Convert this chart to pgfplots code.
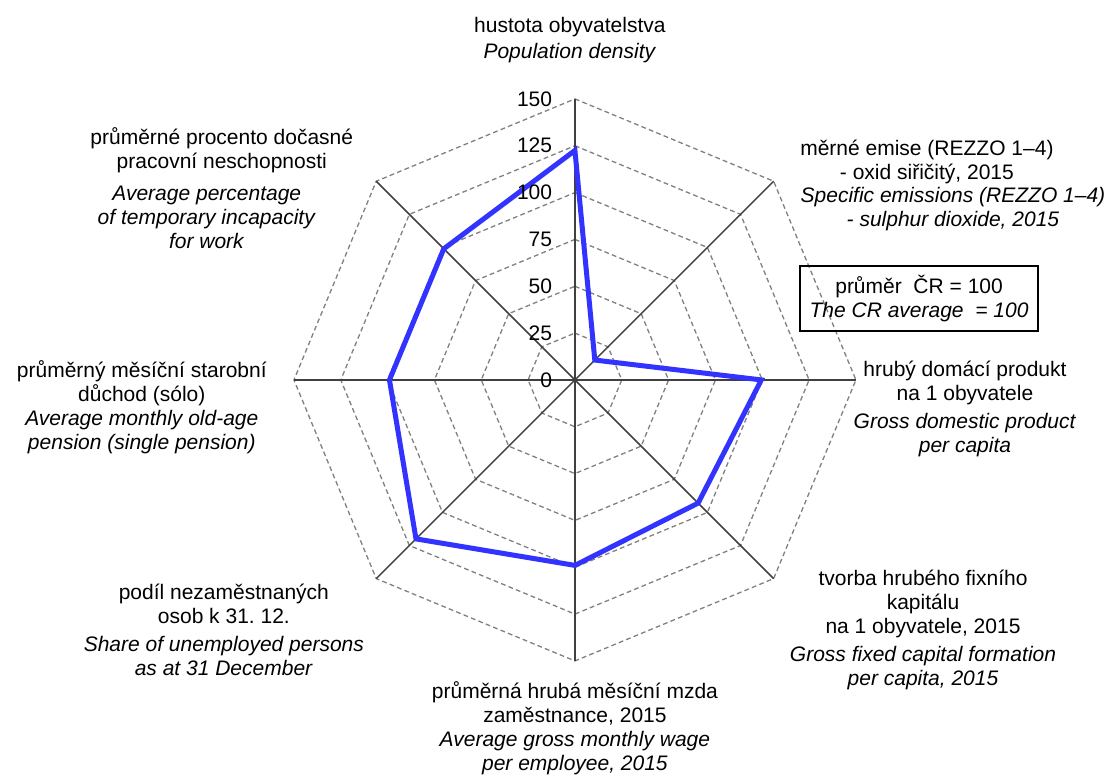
\documentclass[border=0pt]{standalone}
\usepackage{fontspec}
\setmainfont{Liberation Sans}
\usepackage{pgfplots}
\pgfplotsset{compat=1.18}

\definecolor{radarblue}{RGB}{51,51,255}
\definecolor{spoke}{RGB}{64,64,64}
\definecolor{ring}{RGB}{128,128,128}

\begin{document}
\begin{tikzpicture}[lbl/.style={align=center, font=\fontsize{10.5}{12}\selectfont, inner sep=0pt}]
\begin{axis}[
    scale only axis,
    width=556pt, height=387.5pt,
    xmin=-306.9, xmax=286.7,
    ymin=-210.9, ymax=202.8,
    axis lines=none,
    clip=false,
    /pgf/number format/assume math mode=true,
]
% rings
\pgfplotsinvokeforeach{25,50,75,100,125,150}{
  \addplot[ring, line width=0.65pt, dash pattern=on 2.4pt off 1.6pt, data cs=polar, mark=none]
    coordinates {(90,#1) (45,#1) (0,#1) (-45,#1) (-90,#1) (-135,#1) (180,#1) (135,#1) (90,#1)};
}
% spokes
\pgfplotsinvokeforeach{45,0,-45,-90,-135,180,135}{
  \addplot[spoke, line width=0.75pt, data cs=polar, mark=none] coordinates {(#1,0) (#1,150)};
}
\addplot[spoke, line width=1.3pt, data cs=polar, mark=none] coordinates {(90,0) (90,150)};

% data
\addplot[radarblue, line width=2.5pt, line join=miter, data cs=polar, mark=none] coordinates {
  (90,122.5) (45,15) (0,99.5) (-45,93) (-90,99) (-135,120) (180,99) (135,99) (90,122.5) (45,15)
};

% scale labels
\pgfplotsinvokeforeach{0,25,50,75,100,125,150}{
  \node[anchor=east, font=\fontsize{10.5}{12}\selectfont, inner sep=0pt] at (axis cs:-12,#1) {#1};
}

% category labels
\node[lbl] at (axis cs:-2.7,181.5) {hustota obyvatelstva\\[1pt] \textit{Population density}};
\node[lbl] at (axis cs:187.9,116.1) {měrné emise (REZZO 1–4)\\ - oxid siřičitý, 2015};
\node[lbl] at (axis cs:201.8,91.3) {\textit{Specific emissions (REZZO 1–4)}\\ \textit{- sulphur dioxide, 2015}};
\node[lbl] at (axis cs:208.2,-15.7) {hrubý domácí produkt\\ na 1 obyvatele\\[2pt] \textit{Gross domestic product}\\ \textit{per capita}};
\node[lbl] at (axis cs:185.8,-133.2) {tvorba hrubého fixního\\ kapitálu\\ na 1 obyvatele, 2015\\[2pt] \textit{Gross fixed capital formation}\\ \textit{per capita, 2015}};
\node[lbl] at (axis cs:0,-185.8) {průměrná hrubá měsíční mzda\\ zaměstnance, 2015\\ \textit{Average gross monthly wage}\\ \textit{per employee, 2015}};
\node[lbl] at (axis cs:-187.4,-133.5) {podíl nezaměstnaných\\ osob k 31.\ 12.\\[2pt] \textit{Share of unemployed persons}\\ \textit{as at 31 December}};
\node[lbl] at (axis cs:-231.2,-14.7) {průměrný měsíční starobní\\ důchod (sólo)\\ \textit{Average monthly old-age}\\ \textit{pension (single pension)}};
\node[lbl] at (axis cs:-188.5,122.6) {průměrné procento dočasné\\ pracovní neschopnosti};
\node[lbl] at (axis cs:-196.5,86.9) {\textit{Average percentage}\\ \textit{of temporary incapacity}\\ \textit{for work}};

% note box
\node[draw=black, line width=0.7pt, align=center, minimum width=119pt, minimum height=32.5pt, inner sep=2pt,
      font=\fontsize{10.5}{12}\selectfont] at (axis cs:183.7,43.5)
  {průměr\ \ ČR = 100\\ \textit{The CR average\ \ = 100}};
\end{axis}
\pgfresetboundingbox
\path (current axis.south west) rectangle (current axis.north east);
\end{tikzpicture}
\end{document}
